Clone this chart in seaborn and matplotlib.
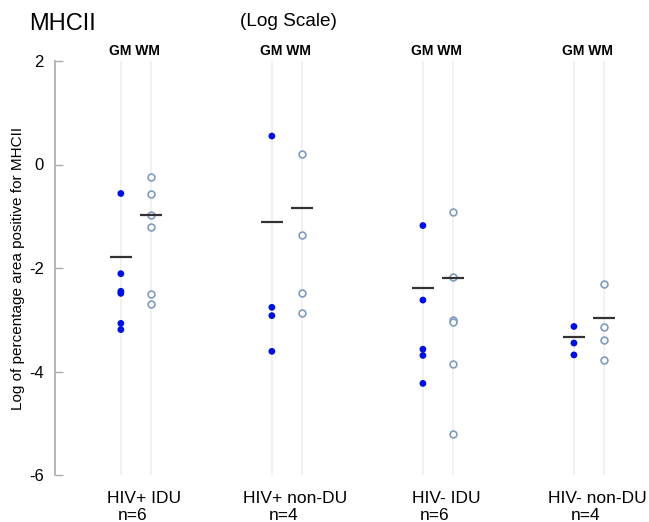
import matplotlib
matplotlib.use("Agg")
import matplotlib.pyplot as plt
import matplotlib.transforms as mtransforms
import seaborn as sns
import pandas as pd

groups = ["HIV+ IDU", "HIV+ non-DU", "HIV- IDU", "HIV- non-DU"]
n_labels = ["n=6", "n=4", "n=6", "n=4"]

gm_vals = [
    [-0.56, -2.11, -2.45, -2.49, -3.07, -3.19],
    [0.55, -2.76, -2.92, -3.61],
    [-1.18, -2.62, -3.57, -3.69, -4.23],
    [-3.13, -3.45, -3.68],
]
wm_vals = [
    [-0.24, -0.57, -0.97, -1.20, -2.51, -2.70],
    [0.21, -1.37, -2.48, -2.87],
    [-0.91, -2.18, -3.01, -3.05, -3.85, -5.20],
    [-2.31, -3.14, -3.40, -3.77],
]
gm_mean = [-1.78, -1.12, -2.39, -3.34]
wm_mean = [-0.97, -0.84, -2.20, -2.96]

tissues = ["GM", "WM"]
offset = {"GM": -0.1, "WM": 0.1}

rows = []
for gi, g in enumerate(groups):
    for v in gm_vals[gi]:
        rows.append({"group": g, "tissue": "GM", "value": v, "x": gi + offset["GM"]})
    for v in wm_vals[gi]:
        rows.append({"group": g, "tissue": "WM", "value": v, "x": gi + offset["WM"]})
df = pd.DataFrame(rows)

sns.set_style("white")
plt.rcParams["font.family"] = ["Liberation Sans", "DejaVu Sans"]
plt.rcParams["text.color"] = "black"
plt.rcParams["axes.labelcolor"] = "black"
plt.rcParams["ytick.labelcolor"] = "black"

fig = plt.figure(figsize=(6.49, 5.22), dpi=100)
ax = fig.add_axes([55 / 649, 47 / 522, (649 - 55) / 649, 414 / 522])

# vertical guide lines
for gi in range(len(groups)):
    for t in tissues:
        ax.axvline(gi + offset[t], color="#efefef", lw=1.2, zorder=0)

gm_df = df[df.tissue == "GM"]
wm_df = df[df.tissue == "WM"]
sns.scatterplot(data=gm_df, x="x", y="value", ax=ax, color="#0010e0",
                s=24, edgecolor="none", zorder=3, legend=False)
sns.scatterplot(data=wm_df, x="x", y="value", ax=ax, facecolor="white",
                edgecolor="#7f9bbd", linewidth=1.2, s=24, zorder=3, legend=False)

# mean lines
xs = range(len(groups))
ax.hlines(gm_mean, [i + offset["GM"] - 0.075 for i in xs], [i + offset["GM"] + 0.075 for i in xs],
          color="#333333", lw=1.6, zorder=4)
ax.hlines(wm_mean, [i + offset["WM"] - 0.075 for i in xs], [i + offset["WM"] + 0.075 for i in xs],
          color="#333333", lw=1.6, zorder=4)

ax.set_xlim(-0.536, 3.397)
ax.set_ylim(-6, 2)
ax.set_yticks([-6, -4, -2, 0, 2])
ax.set_yticklabels(["-6", "-4", "-2", "0", "2"])
ax.set_xticks(list(xs))
ax.set_xticklabels([])
ax.tick_params(axis="x", length=0)
ax.tick_params(axis="y", left=True, direction="in", length=6, width=1.0,
               color="#aaaaaa", labelsize=12, pad=8, labelcolor="black")
ax.set_xlabel("")
ax.set_ylabel("Log of percentage area positive for MHCII", fontsize=11, labelpad=3)
for s in ["top", "right", "bottom"]:
    ax.spines[s].set_visible(False)
ax.spines["left"].set_color("#aaaaaa")
ax.spines["left"].set_linewidth(1.2)

trans = mtransforms.blended_transform_factory(ax.transData, ax.transAxes)
for gi in range(len(groups)):
    ax.text(gi, 1.0, "GM WM", transform=trans + mtransforms.ScaledTranslation(-2 / 100, 3 / 100, fig.dpi_scale_trans),
            ha="center", va="bottom", fontsize=10, fontweight="bold")
    ax.text(gi, -0.0556, groups[gi],
            transform=trans + mtransforms.ScaledTranslation(8 / 100, 0, fig.dpi_scale_trans),
            ha="center", va="center", fontsize=12.5)
    ax.text(gi, -0.097, n_labels[gi],
            transform=trans + mtransforms.ScaledTranslation(-3 / 100, 0, fig.dpi_scale_trans),
            ha="center", va="center", fontsize=12.5)

fig.text(29 / 649, 1 - 24 / 522, "MHCII", fontsize=17, ha="left", va="center")
fig.text(240 / 649, 1 - 22 / 522, "(Log Scale)", fontsize=13.7, ha="left", va="center")

fig.savefig("out.png", dpi=100)
